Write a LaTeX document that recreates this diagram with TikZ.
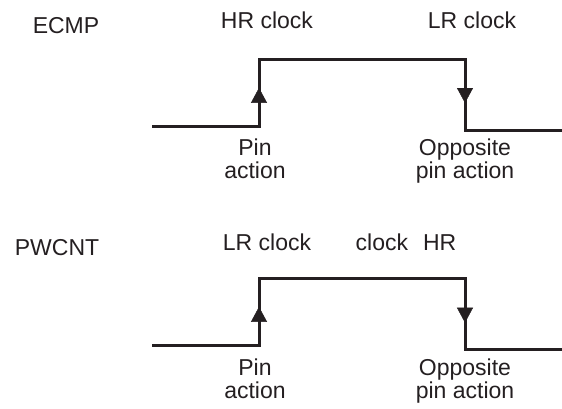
\documentclass[tikz,border=0pt]{standalone}
\usepackage{fontspec}
\setmainfont{Liberation Sans}
\usepackage{tikz}
\usetikzlibrary{
  arrows.meta,%
  decorations.markings,%
  positioning
}
\tikzset{>=latex}
\tikzset{font=\fontsize{23}{23}\selectfont}
\definecolor{ink}{rgb}{0.14,0.12,0.13}
\tikzset{signal/.style={line width=3pt, line join=miter, draw=ink}}
\tikzset{edgetip/.style={postaction={decorate}, decoration={markings,
      mark=at position #1 with {\arrow[ink]{Triangle[width=16pt,length=15pt]}}}}}
\tikzset{lbl/.style={anchor=base, inner sep=0pt, text=ink}}
\tikzset{pinlbl/.style={lbl, align=center}}

\begin{document}
\begin{tikzpicture}[x=1pt, y=-1pt]
              \useasboundingbox (0, 0) rectangle (562, 408); %
              % ECMP
              \coordinate (a0) at (152, 126); %
              \coordinate (a1) at (259, 126); %
              \coordinate (a2) at (259, 59); %
              \coordinate (a3) at (465, 59); %
              \coordinate (a4) at (465, 130); %
              \coordinate (a5) at (562, 130); %
              \draw[signal] (a0) -- (a1) -- (a2) -- (a3) -- (a4) -- (a5); %
              \path[edgetip=0.57] (a1) -- (a2); %
              \path[edgetip=0.62] (a3) -- (a4); %
              \node[lbl] (ecmp) at (66, 33) {ECMP}; %
              \node[lbl] (hrtop) at (267, 28) {HR clock}; %
              \node[lbl] (lrtop) at (472, 28) {LR clock}; %
              \node[pinlbl] (pintop) at (255, 178) {Pin\\action}; %
              \node[pinlbl] (opptop) at (465, 178) {Opposite\\pin action}; %
              % PWCNT
              \coordinate (b0) at (152, 345); %
              \coordinate (b1) at (259, 345); %
              \coordinate (b2) at (259, 278); %
              \coordinate (b3) at (465, 278); %
              \coordinate (b4) at (465, 349); %
              \coordinate (b5) at (562, 349); %
              \draw[signal] (b0) -- (b1) -- (b2) -- (b3) -- (b4) -- (b5); %
              \path[edgetip=0.57] (b1) -- (b2); %
              \path[edgetip=0.63] (b3) -- (b4); %
              \node[lbl] (pwcnt) at (57, 255) {PWCNT}; %
              \node[lbl] (lrbot) at (267, 250) {LR clock}; %
              \node[lbl] (hrbot) at (406, 250) {clock\hspace{0.65em}HR}; %
              \node[pinlbl] (pinbot) at (255, 398) {Pin\\action}; %
              \node[pinlbl] (oppbot) at (465, 398) {Opposite\\pin action}; %
\end{tikzpicture}
\end{document}
